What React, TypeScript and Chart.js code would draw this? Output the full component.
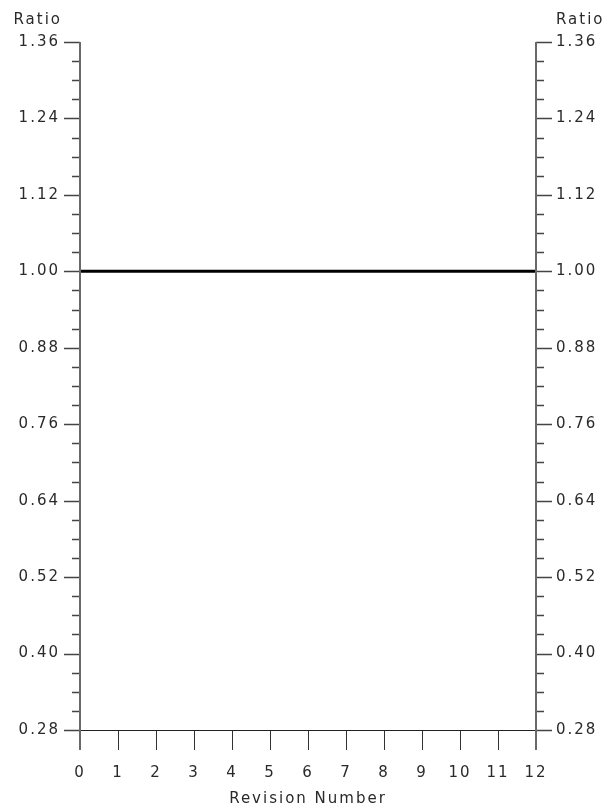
import React, { useEffect, useRef } from "react";
import { Chart, registerables } from "chart.js";

Chart.register(...registerables);

const revisions = [0, 1, 2, 3, 4, 5, 6, 7, 8, 9, 10, 11, 12];
const ratioSolid = [1, 1, 1, 1, 1, 1, 1, 1, 1, 1, 1, 1, 1];
const ratioDashed = [1, 1, 1, 1, 1, 1, 1, 1, 1, 1, 1, 1, 1];
const yMin = 0.28;
const yMax = 1.36;
const yMinorStep = 0.03;
const yMajorEvery = 4;
const xMin = 0;
const xMax = 12;
const yTitle = "Ratio";
const xTitle = "Revision Number";

const FONT = { family: "DejaVu Sans", size: 15 };
const TEXT = "#2a2a2a";

const framePlugin = {
  id: "frame",
  beforeDraw(chart: any) {
    (chart.ctx as any).letterSpacing = "2px";
  },
  afterDraw(chart: any) {
    const ctx = chart.ctx;
    const ys = chart.scales.y;
    const xs = chart.scales.x;
    const { left, right, top, bottom } = chart.chartArea;
    ctx.save();
    ys.ticks.forEach((t: any, i: number) => {
      const py = Math.round(ys.getPixelForValue(t.value)) + 0.5;
      const len = i % yMajorEvery === 0 ? 16 : 8;
      ctx.strokeStyle = "#444";
      ctx.lineWidth = 1.5;
      ctx.beginPath();
      ctx.moveTo(left - len, py);
      ctx.lineTo(left, py);
      ctx.moveTo(right, py);
      ctx.lineTo(right + len, py);
      ctx.stroke();
    });
    xs.ticks.forEach((t: any) => {
      const px = Math.round(xs.getPixelForValue(t.value)) + 0.5;
      ctx.strokeStyle = "#333";
      ctx.lineWidth = 1;
      ctx.beginPath();
      ctx.moveTo(px, bottom);
      ctx.lineTo(px, bottom + 20);
      ctx.stroke();
    });
    ctx.strokeStyle = "#222";
    ctx.lineWidth = 1;
    ctx.beginPath();
    ctx.moveTo(left, Math.round(bottom) + 0.5);
    ctx.lineTo(right, Math.round(bottom) + 0.5);
    ctx.stroke();
    ctx.strokeStyle = "#6a6a6a";
    ctx.lineWidth = 2;
    ctx.beginPath();
    ctx.moveTo(Math.round(left), top);
    ctx.lineTo(Math.round(left), bottom + 20);
    ctx.moveTo(Math.round(right), top);
    ctx.lineTo(Math.round(right), bottom + 20);
    ctx.stroke();
    ctx.font = `${FONT.size}px ${FONT.family}`;
    ctx.fillStyle = TEXT;
    ctx.textBaseline = "middle";
    ctx.textAlign = "right";
    ctx.fillText(yTitle, left - 20 + 2, 20);
    ctx.textAlign = "left";
    ctx.fillText(yTitle, right + 20, 20);
    ctx.restore();
  },
};

export default function App() {
  const ref = useRef<HTMLCanvasElement>(null);
  useEffect(() => {
    document.body.style.margin = "0";
    const yTicks = {
      stepSize: yMinorStep,
      autoSkip: false,
      padding: 4,
      color: TEXT,
      font: FONT,
      callback: (v: any, i: number) => (i % yMajorEvery === 0 ? Number(v).toFixed(2) : ""),
    };
    const yGrid = {
      drawOnChartArea: false,
      drawTicks: true,
      tickLength: 16,
      tickColor: "transparent",
    };
    const chart = new Chart(ref.current!, {
      type: "line",
      data: {
        datasets: [
          {
            data: revisions.map((r, i) => ({ x: r, y: ratioSolid[i] })),
            borderColor: "#000",
            borderWidth: 3,
            pointRadius: 0,
            yAxisID: "y",
          },
          {
            data: revisions.map((r, i) => ({ x: r, y: ratioDashed[i] })),
            borderColor: "#5a5a5a",
            borderWidth: 1,
            borderDash: [6, 6],
            pointRadius: 0,
            yAxisID: "y",
          },
        ],
      },
      options: {
        responsive: false,
        animation: false,
        events: [],
        layout: { padding: { top: 42, left: 0, right: 0, bottom: 0 } },
        plugins: { legend: { display: false }, tooltip: { enabled: false } },
        scales: {
          x: {
            type: "linear",
            min: xMin,
            max: xMax,
            ticks: { stepSize: 1, autoSkip: false, padding: 14, color: TEXT, font: FONT, maxRotation: 0 },
            grid: { drawOnChartArea: false, drawTicks: true, tickLength: 20, tickColor: "transparent" },
            border: { display: false },
            title: { display: true, text: xTitle, color: TEXT, font: FONT, padding: { top: 0, bottom: 1 } },
            afterFit: (s: any) => {
              s.height = 79;
            },
          },
          y: {
            type: "linear",
            position: "left",
            min: yMin,
            max: yMax,
            ticks: yTicks,
            grid: yGrid,
            border: { display: false },
            afterFit: (s: any) => {
              s.width = 80;
            },
          },
          y2: {
            type: "linear",
            position: "right",
            min: yMin,
            max: yMax,
            ticks: yTicks,
            grid: yGrid,
            border: { display: false },
            afterFit: (s: any) => {
              s.width = 80;
            },
          },
        },
      } as any,
      plugins: [framePlugin],
    });
    return () => chart.destroy();
  }, []);
  return (
    <div style={{ position: "absolute", left: 0, top: 0, width: 616, height: 809 }}>
      <canvas ref={ref} width={616} height={809} />
    </div>
  );
}
